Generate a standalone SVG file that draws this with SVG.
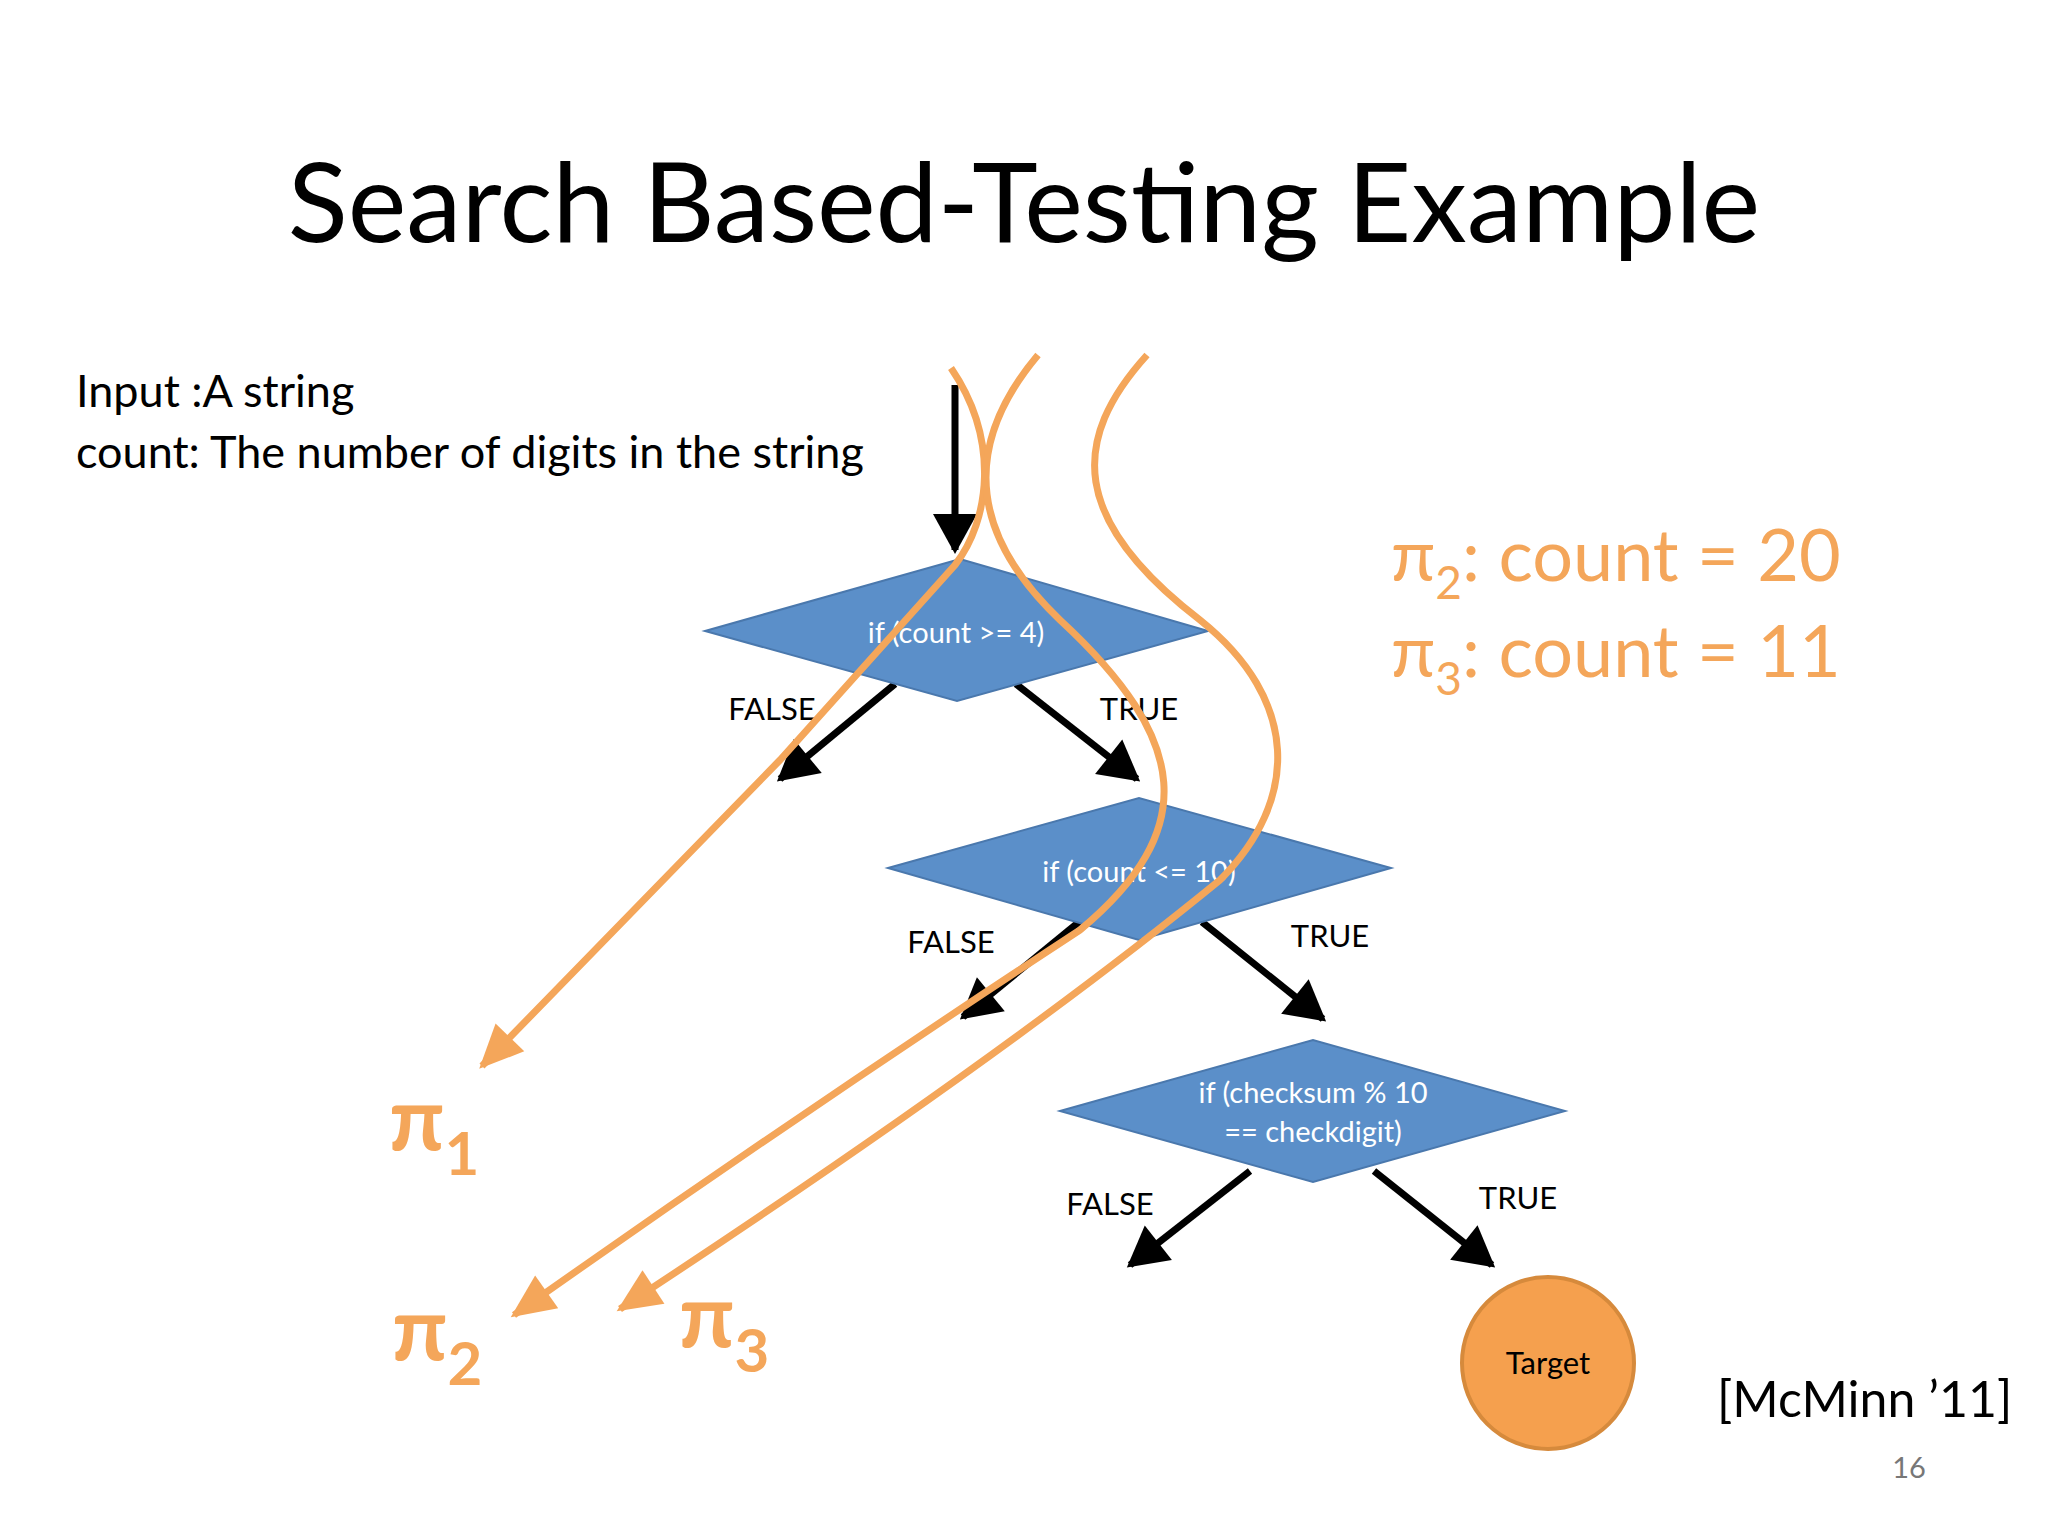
<svg xmlns="http://www.w3.org/2000/svg" width="2048" height="1536" viewBox="0 0 2048 1536">
<defs>
<marker id="ab" markerWidth="8" markerHeight="8" refX="6" refY="4" orient="auto" markerUnits="userSpaceOnUse" viewBox="0 0 8 8" style="overflow:visible"><path d="M-30,-18 L10,4 L-30,26 Z" fill="#000"/></marker>
<marker id="ao" markerWidth="8" markerHeight="8" viewBox="0 0 8 8" refX="6" refY="4" orient="auto" markerUnits="userSpaceOnUse" style="overflow:visible"><path d="M-34,-16 L10,4 L-34,24 Z" fill="#f4a65a"/></marker>
</defs>
<style>
.dia{fill:#5b8fc9;stroke:#4a78ad;stroke-width:2}
.dt{font-family:Lato,"Open Sans",sans-serif;font-size:29px;fill:#fff;text-anchor:middle}
.lb{font-family:Lato,"Open Sans",sans-serif;font-size:31px;fill:#000;text-anchor:middle}
.bk{stroke:#000;stroke-width:7;fill:none;marker-end:url(#ab)}
.or{stroke:#f4a65a;stroke-width:7;fill:none}
.pi{font-family:Lato,"Open Sans",sans-serif;font-weight:bold;fill:#f4a65a}
</style>
<rect width="2048" height="1536" fill="#fff"/>
<text x="1024" y="242" font-family="Lato,'Open Sans',sans-serif" font-size="111" text-anchor="middle" fill="#000">Search Based-Testing Example</text>
<text x="76" y="407" font-family="Lato,'Open Sans',sans-serif" font-size="45" fill="#000">Input :A string</text>
<text x="76" y="468" font-family="Lato,'Open Sans',sans-serif" font-size="45" fill="#000">count: The number of digits in the string</text>
<g id="connectors">
<path class="bk" d="M955,385 L955,550"/>
<path class="bk" d="M895,684 L780,779"/>
<path class="bk" d="M1016,684 L1137,779"/>
<path class="bk" d="M1079,922 L963,1017"/>
<path class="bk" d="M1202,922 L1323,1019"/>
<path class="bk" d="M1250,1171 L1130,1265"/>
<path class="bk" d="M1374,1171 L1492,1265"/>
</g>
<g id="d1"><polygon class="dia" points="705,631 960,559 1208,631 957,701"/><text class="dt" x="956" y="643">if (count &gt;= 4)</text></g>
<g id="d2"><polygon class="dia" points="888,868 1139,798 1391,868 1139,940"/><text class="dt" x="1139" y="882">if (count &lt;= 10)</text></g>
<g id="d3"><polygon class="dia" points="1060,1111 1313,1040 1565,1111 1313,1182"/><text class="dt" x="1313" y="1103">if (checksum % 10</text><text class="dt" x="1313" y="1142">== checkdigit)</text></g>
<g id="labels">
<text class="lb" x="772" y="720">FALSE</text><text class="lb" x="1139" y="720">TRUE</text>
<text class="lb" x="951" y="953">FALSE</text><text class="lb" x="1330" y="947">TRUE</text>
<text class="lb" x="1110" y="1215">FALSE</text><text class="lb" x="1518" y="1209">TRUE</text>
</g>
<g id="target"><circle cx="1548" cy="1363" r="86" fill="#f5a04e" stroke="#d68a3c" stroke-width="4"/><text class="lb" x="1548" y="1374" fill="#000">Target</text></g>
<g id="paths">
<path class="or" marker-end="url(#ao)" d="M951,368 C1000,440 990,520 955,565 L780,760 L482,1066"/>
<path class="or" marker-end="url(#ao)" d="M1038,355 C975,430 955,520 1060,620 C1190,740 1200,830 1080,930 Q790,1120 514,1315"/>
<path class="or" marker-end="url(#ao)" d="M1147,355 C1070,440 1070,520 1200,620 C1300,700 1300,800 1220,880 Q1000,1060 620,1309"/>
</g>
<text class="pi" x="389" y="1150" font-size="88">π<tspan font-size="60" dy="25">1</tspan></text>
<text class="pi" x="392" y="1360" font-size="88">π<tspan font-size="60" dy="25">2</tspan></text>
<text class="pi" x="679" y="1347" font-size="88">π<tspan font-size="60" dy="25">3</tspan></text>
<text x="1391" y="581" font-family="Lato,'Open Sans',sans-serif" font-size="72" fill="#f4a65a">π<tspan font-size="46" dy="18">2</tspan><tspan dy="-18">: count = 20</tspan></text>
<text x="1391" y="677" font-family="Lato,'Open Sans',sans-serif" font-size="72" fill="#f4a65a">π<tspan font-size="46" dy="18">3</tspan><tspan dy="-18">: count = 11</tspan></text>
<text x="1717" y="1417" font-family="Lato,'Open Sans',sans-serif" font-size="50" fill="#000">[McMinn ’11]</text>
<text x="1909" y="1478" font-family="Lato,'Open Sans',sans-serif" font-size="29" fill="#777" text-anchor="middle">16</text>
</svg>
